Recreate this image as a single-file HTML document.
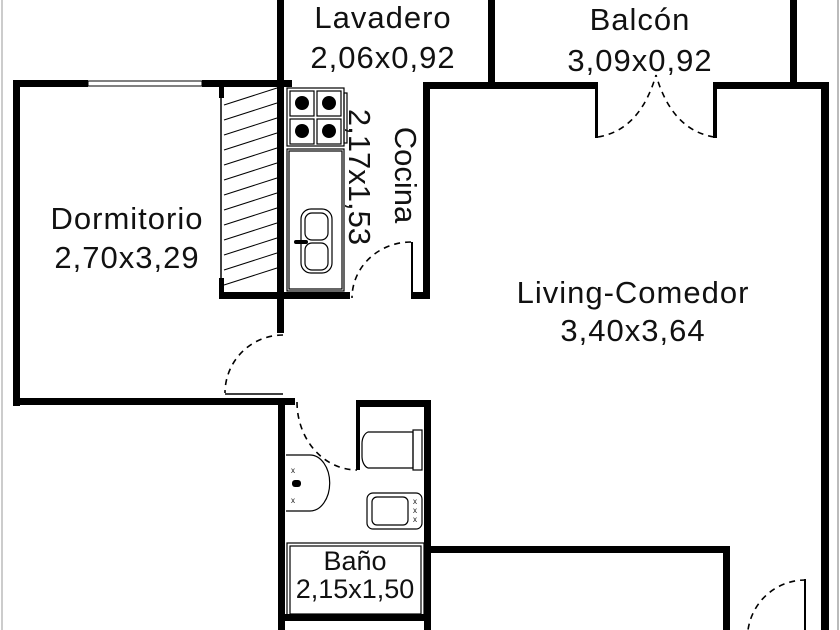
<!DOCTYPE html>
<html><head><meta charset="utf-8"><style>
html,body{margin:0;padding:0;background:#fff;}
svg{display:block;}
text{font-family:"Liberation Sans",sans-serif;fill:#111;}
</style></head><body>
<svg width="840" height="630" viewBox="0 0 840 630" xmlns="http://www.w3.org/2000/svg">
<rect width="840" height="630" fill="#fff"/>
<line x1="2" y1="0" x2="2" y2="630" stroke="#999" stroke-width="1"/>
<line x1="838" y1="0" x2="838" y2="630" stroke="#777" stroke-width="1"/>
<g fill="#000">
<rect x="13" y="80" width="7" height="326"/>
<rect x="13" y="80" width="75" height="7"/>
<rect x="202" y="80" width="90" height="7"/>
<rect x="13" y="398" width="282" height="7"/>
<rect x="277" y="0" width="7" height="333"/>
<rect x="219" y="87" width="5" height="11"/>
<rect x="219" y="278" width="5" height="20"/>
<rect x="219" y="292" width="131" height="7"/>
<rect x="423" y="82" width="7" height="217"/>
<rect x="423" y="82" width="175" height="7"/>
<rect x="411" y="292" width="19" height="7"/>
<rect x="411" y="242" width="2" height="52"/>
<rect x="488" y="0" width="7" height="82"/>
<rect x="790" y="0" width="7" height="82"/>
<rect x="595" y="82" width="3" height="56"/>
<rect x="713" y="82" width="4" height="56"/>
<rect x="713" y="82" width="116" height="7"/>
<rect x="821" y="82" width="8" height="548"/>
<rect x="278" y="398" width="7" height="232"/>
<rect x="356" y="400" width="4" height="70"/>
<rect x="356" y="400" width="75" height="7"/>
<rect x="424" y="400" width="7" height="230"/>
<rect x="278" y="614" width="153" height="7"/>
<rect x="424" y="546" width="306" height="7"/>
<rect x="723" y="546" width="7" height="84"/>
<rect x="804" y="579" width="2" height="51"/>
</g>
<rect x="88" y="81" width="114" height="5" fill="#fff" stroke="#000" stroke-width="1"/>
<line x1="221" y1="98" x2="221" y2="278" stroke="#000" stroke-width="1.5"/>
<g stroke="#000" stroke-width="1">
<line x1="224" y1="105" x2="277" y2="88"/>
<line x1="224" y1="120" x2="277" y2="103"/>
<line x1="224" y1="135" x2="277" y2="118"/>
<line x1="224" y1="150" x2="277" y2="133"/>
<line x1="224" y1="165" x2="277" y2="148"/>
<line x1="224" y1="180" x2="277" y2="163"/>
<line x1="224" y1="195" x2="277" y2="178"/>
<line x1="224" y1="210" x2="277" y2="193"/>
<line x1="224" y1="225" x2="277" y2="208"/>
<line x1="224" y1="240" x2="277" y2="223"/>
<line x1="224" y1="255" x2="277" y2="238"/>
<line x1="224" y1="270" x2="277" y2="253"/>
<line x1="224" y1="285" x2="277" y2="268"/>
</g>
<g fill="none" stroke="#000" stroke-width="1.2">
<rect x="287" y="88" width="57" height="58"/>
<rect x="344" y="93" width="3" height="50"/>
<rect x="287" y="149" width="57" height="142"/>
<rect x="289" y="151" width="53" height="138"/>
<rect x="301" y="209" width="31" height="64" rx="10"/>
<rect x="305" y="213" width="23" height="27" rx="7"/>
<rect x="305" y="243" width="23" height="27" rx="7"/>
<rect x="290" y="91" width="24" height="25"/><rect x="317" y="91" width="24" height="25"/>
<rect x="290" y="119" width="24" height="25"/><rect x="317" y="119" width="24" height="25"/>
</g>
<g fill="#000"><circle cx="302" cy="103" r="7"/><circle cx="329" cy="103" r="7"/><circle cx="302" cy="131" r="7"/><circle cx="329" cy="131" r="7"/>
<rect x="294" y="240" width="14" height="4" rx="2"/></g>
<g fill="none" stroke="#000" stroke-width="1.6" stroke-dasharray="6,5">
<path d="M283 335 A58 58 0 0 0 225 393"/>
<path d="M411 242 A59 56 0 0 0 352 298"/>
<path d="M297 402 A60 68 0 0 0 357 470"/>
<path d="M598 137 Q640 130 656 75"/>
<path d="M714 137 Q672 130 656 75"/>
<path d="M806 580 A58 58 0 0 0 748 630"/>
</g>
<line x1="225" y1="394" x2="283" y2="394" stroke="#000" stroke-width="1.5"/>
<g fill="none" stroke="#000" stroke-width="1.2">
<path d="M286 455 H310 A19 27 0 0 1 310 511 H286"/>
<path d="M368 432 H413 V468 H368 A8 12 0 0 1 362 456 V444 A8 12 0 0 1 368 432 Z"/>
<rect x="413" y="430" width="9" height="40"/>
<rect x="367" y="493" width="55" height="36" rx="6"/>
<rect x="372" y="497" width="36" height="28" rx="5"/>
<rect x="287" y="543" width="137" height="74"/>
<rect x="290" y="546" width="131" height="68"/>
</g>
<rect x="292" y="480" width="9" height="7" rx="3" fill="#000"/>
<g font-size="8" text-anchor="middle"><text x="293" y="473">x</text><text x="293" y="503">x</text><text x="415" y="504">x</text><text x="415" y="513">x</text><text x="415" y="522">x</text></g>
<g font-size="31" text-anchor="middle" letter-spacing="1">
<text x="383" y="28">Lavadero</text>
<text x="383" y="68">2,06x0,92</text>
<text x="640" y="30">Balcón</text>
<text x="640" y="71">3,09x0,92</text>
<text x="127" y="229">Dormitorio</text>
<text x="127" y="268">2,70x3,29</text>
<text x="633" y="303">Living-Comedor</text>
<text x="633" y="341">3,40x3,64</text>
</g>
<g font-size="31" text-anchor="middle">
<text transform="translate(349,177) rotate(90)">2,17x1,53</text>
<text transform="translate(395,175) rotate(90)">Cocina</text>
</g>
<g font-size="27" text-anchor="middle">
<text x="355" y="570">Baño</text>
<text x="355" y="598">2,15x1,50</text>
</g>
</svg>
</body></html>
